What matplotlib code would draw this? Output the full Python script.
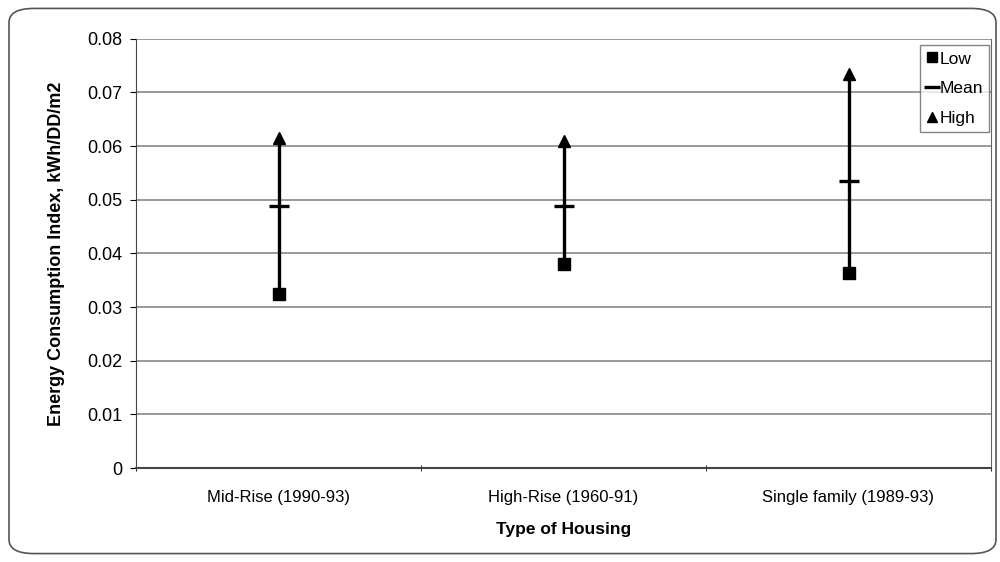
import numpy as np
import matplotlib.pyplot as plt
from matplotlib.patches import FancyBboxPatch

plt.rcParams['font.family'] = ['Liberation Sans', 'DejaVu Sans']

# Дані
housing = ['Mid-Rise (1990-93)', 'High-Rise (1960-91)', 'Single family (1989-93)']
low = [0.0324, 0.0380, 0.0363]
mean = [0.0488, 0.0488, 0.0535]
high = [0.0615, 0.0610, 0.0735]

fig = plt.figure(figsize=(10, 5.62), dpi=100)
ax = fig.add_axes([0.136, 0.167, 0.855, 0.764])

x = np.arange(len(housing))

# Лінії від мінімуму до максимуму
ax.vlines(x, low, high, color='black', lw=2.4, zorder=3)
ax.plot(x, low, ls='none', marker='s', ms=9, color='black', label='Low', zorder=4)
ax.plot(x, mean, ls='none', marker='_', ms=14, mew=2.4, color='black', label='Mean', zorder=4)
ax.plot(x, high, ls='none', marker='^', ms=9, color='black', label='High', zorder=4)

# Осі
ax.set_xlim(-0.5, 2.5)
ax.set_ylim(0, 0.08)
ax.set_yticks(np.arange(0, 0.081, 0.01))
ax.set_yticklabels(['0'] + ['%.2f' % v for v in np.arange(0.01, 0.081, 0.01)], fontsize=13)
ax.set_xticks(x)
ax.set_xticklabels(housing, fontsize=12)
ax.set_xticks([-0.5, 0.5, 1.5, 2.5], minor=True)
ax.tick_params(axis='x', which='major', length=0, pad=16)
ax.tick_params(axis='x', which='minor', length=5, direction='inout')
ax.tick_params(axis='y', length=4, direction='out', pad=6)
ax.grid(axis='y', color='#888888', lw=1.2)
ax.set_axisbelow(True)
ax.spines['top'].set_visible(False)
ax.spines['right'].set_color('#666666')
ax.spines['left'].set_color('#444444')
ax.spines['bottom'].set_color('#444444')
ax.spines['bottom'].set_linewidth(1.5)

ax.set_xlabel('Type of Housing', fontsize=12.5, fontweight='bold', labelpad=12)
ax.set_ylabel('Energy Consumption Index, kWh/DD/m2', fontsize=13, fontweight='bold', labelpad=16)

leg = ax.legend(loc='upper right', bbox_to_anchor=(1.008, 1.005), frameon=True, fontsize=12.5,
                handlelength=0.6, handletextpad=0.15, borderpad=0.35, labelspacing=0.85,
                fancybox=False, edgecolor='#666666', markerscale=0.85)
leg.get_frame().set_linewidth(1.0)

# Рамка навколо всього рисунка
frame = FancyBboxPatch((0.009, 0.015), 0.987, 0.97, boxstyle='round,pad=0,rounding_size=0.025',
                       transform=fig.transFigure, fill=False, edgecolor='#555555', lw=1.2)
fig.patches.append(frame)

fig.savefig('out.png', dpi=100)
